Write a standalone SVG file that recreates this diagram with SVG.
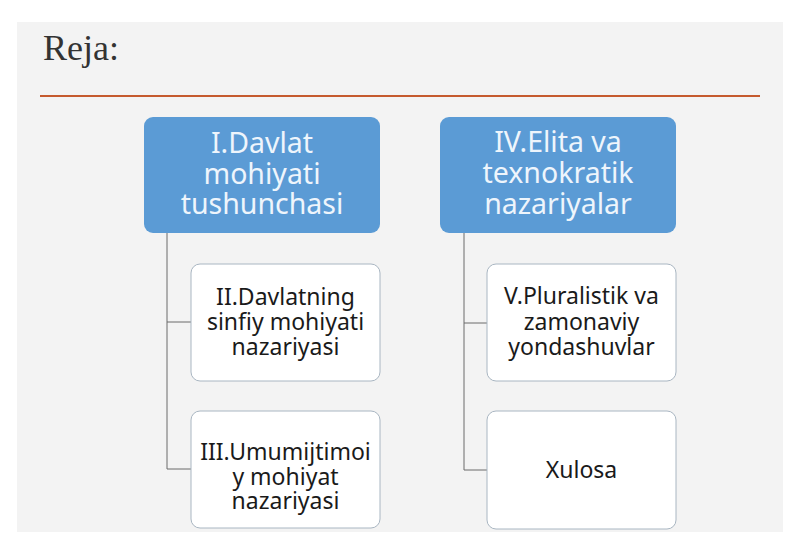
<svg xmlns="http://www.w3.org/2000/svg" width="800" height="553" viewBox="0 0 800 553">
<style>
.blue{fill:#5b9bd5;}
.white{fill:#ffffff;stroke:#a9b6c2;stroke-width:1;}
.bt{font-family:"Noto Sans","Open Sans",sans-serif;font-size:28.5px;fill:#eef5fc;text-anchor:middle;}
.wt{font-family:"Noto Sans","Open Sans",sans-serif;font-size:23px;fill:#1a1a1a;text-anchor:middle;}
.conn{fill:none;stroke:#6b6b6b;stroke-width:1;}
</style>
<rect x="0" y="0" width="800" height="553" fill="#ffffff"/>
<rect x="17" y="22" width="766" height="510" fill="#f3f3f3"/>
<text x="43" y="60" font-family="Liberation Serif,serif" font-size="36" fill="#333333">Reja:</text>
<line x1="40" y1="96" x2="760" y2="96" stroke="#c55a2e" stroke-width="2"/>
<g id="connectors">
<path class="conn" d="M167,233 V469 H191 M167,322 H191"/>
<path class="conn" d="M464,233 V470 H487 M464,323 H487"/>
</g>
<g id="n1">
<rect class="blue" x="144" y="117" width="236" height="116" rx="9"/>
<text class="bt" x="262" y="153">I.Davlat</text>
<text class="bt" x="262" y="184">mohiyati</text>
<text class="bt" x="262" y="214">tushunchasi</text>
</g>
<g id="n2">
<rect class="white" x="191" y="264" width="189" height="117" rx="9"/>
<text class="wt" x="285.5" y="305">II.Davlatning</text>
<text class="wt" x="285.5" y="330">sinfiy mohiyati</text>
<text class="wt" x="285.5" y="355">nazariyasi</text>
</g>
<g id="n3">
<rect class="white" x="191" y="411" width="189" height="117" rx="9"/>
<text class="wt" x="285.5" y="460">III.Umumijtimoi</text>
<text class="wt" x="285.5" y="485">y mohiyat</text>
<text class="wt" x="285.5" y="509">nazariyasi</text>
</g>
<g id="n4">
<rect class="blue" x="440" y="117" width="236" height="116" rx="9"/>
<text class="bt" x="558" y="152">IV.Elita va</text>
<text class="bt" x="558" y="183">texnokratik</text>
<text class="bt" x="558" y="214">nazariyalar</text>
</g>
<g id="n5">
<rect class="white" x="487" y="264" width="189" height="117" rx="9"/>
<text class="wt" x="581.5" y="304">V.Pluralistik va</text>
<text class="wt" x="581.5" y="330">zamonaviy</text>
<text class="wt" x="581.5" y="355">yondashuvlar</text>
</g>
<g id="n6">
<rect class="white" x="487" y="411" width="189" height="118" rx="9"/>
<text class="wt" x="581.5" y="478">Xulosa</text>
</g>
</svg>
